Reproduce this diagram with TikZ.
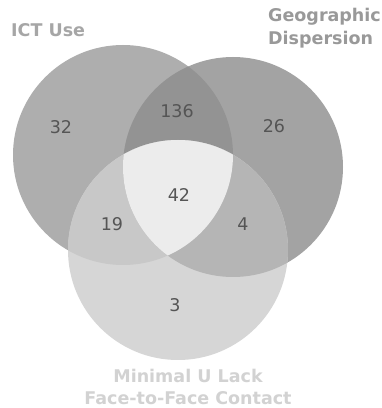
\documentclass[tikz,border=0pt]{standalone}
\usepackage{fontspec}
\setmainfont{DejaVu Sans}
\begin{document}
\begin{tikzpicture}[x=1pt,y=1pt,
  num/.style={text=numgray,font=\fontsize{17.5}{19}\selectfont,inner sep=0pt,anchor=center},
  lbl/.style={font=\bfseries\fontsize{17.5}{19}\selectfont,inner sep=0pt}]
\definecolor{numgray}{HTML}{555555}
\definecolor{colA}{HTML}{AEAEAE}
\definecolor{colB}{HTML}{A3A3A3}
\definecolor{colAB}{HTML}{939393}
\definecolor{colC}{HTML}{D6D6D6}
\definecolor{colAC}{HTML}{C8C8C8}
\definecolor{colBC}{HTML}{B5B5B5}
\definecolor{colABC}{HTML}{ECECEC}
\definecolor{lblA}{HTML}{A6A6A6}
\definecolor{lblB}{HTML}{999999}
\definecolor{lblC}{HTML}{D2D2D2}
\useasboundingbox (0,0) rectangle (382,408);
\fill[white] (0,0) rectangle (382,408);
\coordinate (cA) at (123,253);
\coordinate (cB) at (233,241);
\coordinate (cC) at (178,158);
\def\rr{110}
\fill[colA] (cA) circle[radius=\rr];
\fill[colB] (cB) circle[radius=\rr];
\begin{scope}
  \clip (cA) circle[radius=\rr];
  \fill[colAB] (cB) circle[radius=\rr];
\end{scope}
\fill[colC] (cC) circle[radius=\rr];
\begin{scope}
  \clip (cA) circle[radius=\rr];
  \fill[colAC] (cC) circle[radius=\rr];
\end{scope}
\begin{scope}
  \clip (cB) circle[radius=\rr];
  \fill[colBC] (cC) circle[radius=\rr];
\end{scope}
\begin{scope}
  \clip (cA) circle[radius=\rr];
  \clip (cB) circle[radius=\rr];
  \fill[colABC] (cC) circle[radius=\rr];
\end{scope}
\node[num] (n32) at (61,281) {32};
\node[num] (n136) at (177,297) {136};
\node[num] (n26) at (274,282) {26};
\node[num] (n42) at (179,213) {42};
\node[num] (n19) at (112,184) {19};
\node[num] (n4) at (243,184) {4};
\node[num] (n3) at (175,103) {3};
\node[lbl,text=lblA,anchor=base west] (lA) at (11,371) {ICT Use};
\node[lbl,text=lblB,anchor=base east] (lB1) at (381,386) {Geographic};
\node[lbl,text=lblB,anchor=base west] (lB2) at (lB1.base west |- 0,363) {Dispersion};
\node[lbl,text=lblC,anchor=base] (lC1) at (188,25) {Minimal U Lack};
\node[lbl,text=lblC,anchor=base] (lC2) at (188,3.5) {Face-to-Face Contact};
\end{tikzpicture}
\end{document}
